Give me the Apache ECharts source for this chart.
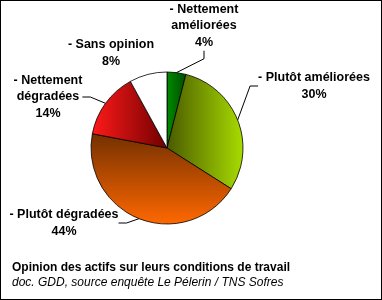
<!DOCTYPE html>
<html><head><meta charset="utf-8">
<script src="https://cdn.jsdelivr.net/npm/echarts@6/dist/echarts.min.js"></script>
<style>
html,body{margin:0;padding:0;background:#fff;}
#c{width:380px;height:298px;border:1px solid #000;}
</style></head><body>
<div id="c"></div>
<script>
const categories = ['Nettement\naméliorées', 'Plutôt améliorées', 'Plutôt dégradées', 'Nettement\ndégradées', 'Sans opinion'];
const values = [4, 30, 44, 14, 8];
const titleText = 'Opinion des actifs sur leurs conditions de travail';
const sourceText = 'doc. GDD, source enquête Le Pélerin / TNS Sofres';

const G = (x, y, x2, y2, c1, c2) => ({type:'linear', x, y, x2, y2, colorStops:[{offset:0,color:c1},{offset:1,color:c2}]});
const colors = [
  G(0,0,1,0,'#008a00','#004d00'),
  G(0,0,1,0,'#4a5a00','#a8dc00'),
  G(0,0,0,1,'#733000','#ff6800'),
  G(0,0,1,0,'#ff1a1a','#700000'),
  '#ffffff'
];
const showLine = [true, true, true, true, false];
const labelPos = [
  [203, 25],
  [313, 85],
  [63, 222],
  [47, 96],
  [110, 52]
];

const chart = echarts.init(document.getElementById('c'));
chart.setOption({
  animation:false,
  backgroundColor:'#fff',
  graphic:[
    {type:'text', left:11, top:261, style:{text:titleText, font:'bold 12px Arial, "Liberation Sans"', fill:'#000'}},
    {type:'text', left:11, top:276, style:{text:sourceText, font:'italic 12px Arial, "Liberation Sans"', fill:'#000'}}
  ],
  series:[{
    type:'pie',
    center:[166,147],
    radius:[0,76],
    startAngle:90,
    clockwise:true,
    data: categories.map((n,i)=>({name:n, value:values[i], itemStyle:{color:colors[i]}, labelLine:{show:showLine[i]}})),
    itemStyle:{borderColor:'#000', borderWidth:0.8},
    label:{
      show:true,
      formatter: p => '- ' + p.name + '\n' + p.value + '%',
      fontFamily:'Arial, "Liberation Sans"',
      fontSize:12.5,
      fontWeight:'bold',
      color:'#000',
      align:'center',
      lineHeight:16.5,
      overflow:'none'
    },
    labelLine:{show:true, length:12, length2:8, lineStyle:{color:'#000', width:1}},
    labelLayout: p => ({x: labelPos[p.dataIndex][0], y: labelPos[p.dataIndex][1], align:'center', verticalAlign:'middle'})
  }]
});
</script>
</body></html>
